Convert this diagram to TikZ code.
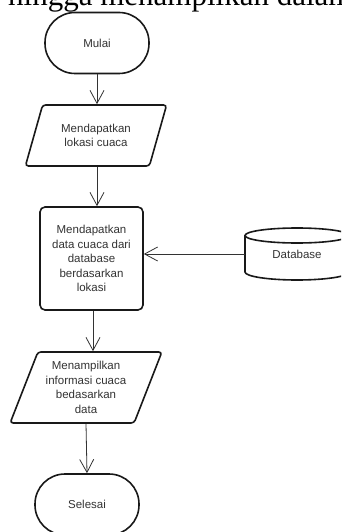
\documentclass[tikz,border=0pt]{standalone}
\usepackage{fontspec}
\setmainfont{Liberation Sans}
\newfontfamily\serifdoc{Liberation Serif}
\usetikzlibrary{shapes.geometric, arrows.meta}
\newcommand{\flowfont}{\fontsize{11.5}{14.6}\selectfont\color{black!80}}
\begin{document}
\begin{tikzpicture}[x=1pt,y=-1pt,
  shapeline/.style={draw=black!90, line width=1.6pt},
  term/.style={shapeline, rectangle, rounded corners=30pt, minimum width=104pt, minimum height=61pt, align=center, font=\flowfont},
  io/.style={shapeline, trapezium, trapezium left angle=#1, trapezium right angle=180-#1, trapezium stretches=true, rounded corners=3pt, align=center, font=\flowfont, inner sep=0pt},
  proc/.style={shapeline, rectangle, rounded corners=5pt, minimum width=103pt, minimum height=103pt, align=center, font=\flowfont, inner sep=0pt},
  flow/.style={draw=black!80, line width=0.8pt, -{Straight Barb[length=13pt,width=14pt]}},
]
\useasboundingbox (0,0) rectangle (341,532);
\clip (0,0) rectangle (341,532);
\fill[white] (0,0) rectangle (341,532);

\node[anchor=base west, inner sep=0pt, font=\serifdoc\fontsize{31}{31}\selectfont] (toptext) at (8,6) {hingga menampilkan dalam};

\node[term] (mulai) at (97,43) {Mulai};
\node[io=64, minimum width=142pt, minimum height=61pt] (lokasi) at (96,135.5) {Mendapatkan\\lokasi cuaca};
\node[proc] (ambil) at (91.5,258.5) {Mendapatkan\\data cuaca dari\\database\\berdasarkan\\lokasi};
\node[io=66, minimum width=152pt, minimum height=71pt] (tampil) at (86,387.5) {Menampilkan\\informasi cuaca\\bedasarkan\\data};
\node[term] (selesai) at (87,504.5) {Selesai};

% database cylinder
\node[minimum width=104pt, minimum height=52pt, font=\flowfont] (db) at (297,254) {Database};
\draw[shapeline] (297,235.5) ellipse [x radius=52, y radius=7.5];
\draw[shapeline] (245,235.5) -- (245,272) arc[start angle=180, end angle=0, x radius=52, y radius=8] -- (349,235.5);

\draw[flow] (mulai.south) -- (mulai.south |- lokasi.north);
\draw[flow] (lokasi.south -| mulai.south) -- (ambil.north -| mulai.south);
\draw[flow] (db.west) -- (db.west -| ambil.east);
\draw[flow] ([xshift=1.5pt]ambil.south) -- ([xshift=1.5pt]ambil.south |- tampil.north);
\draw[flow] (tampil.south) -- (selesai.north);
\end{tikzpicture}
\end{document}
